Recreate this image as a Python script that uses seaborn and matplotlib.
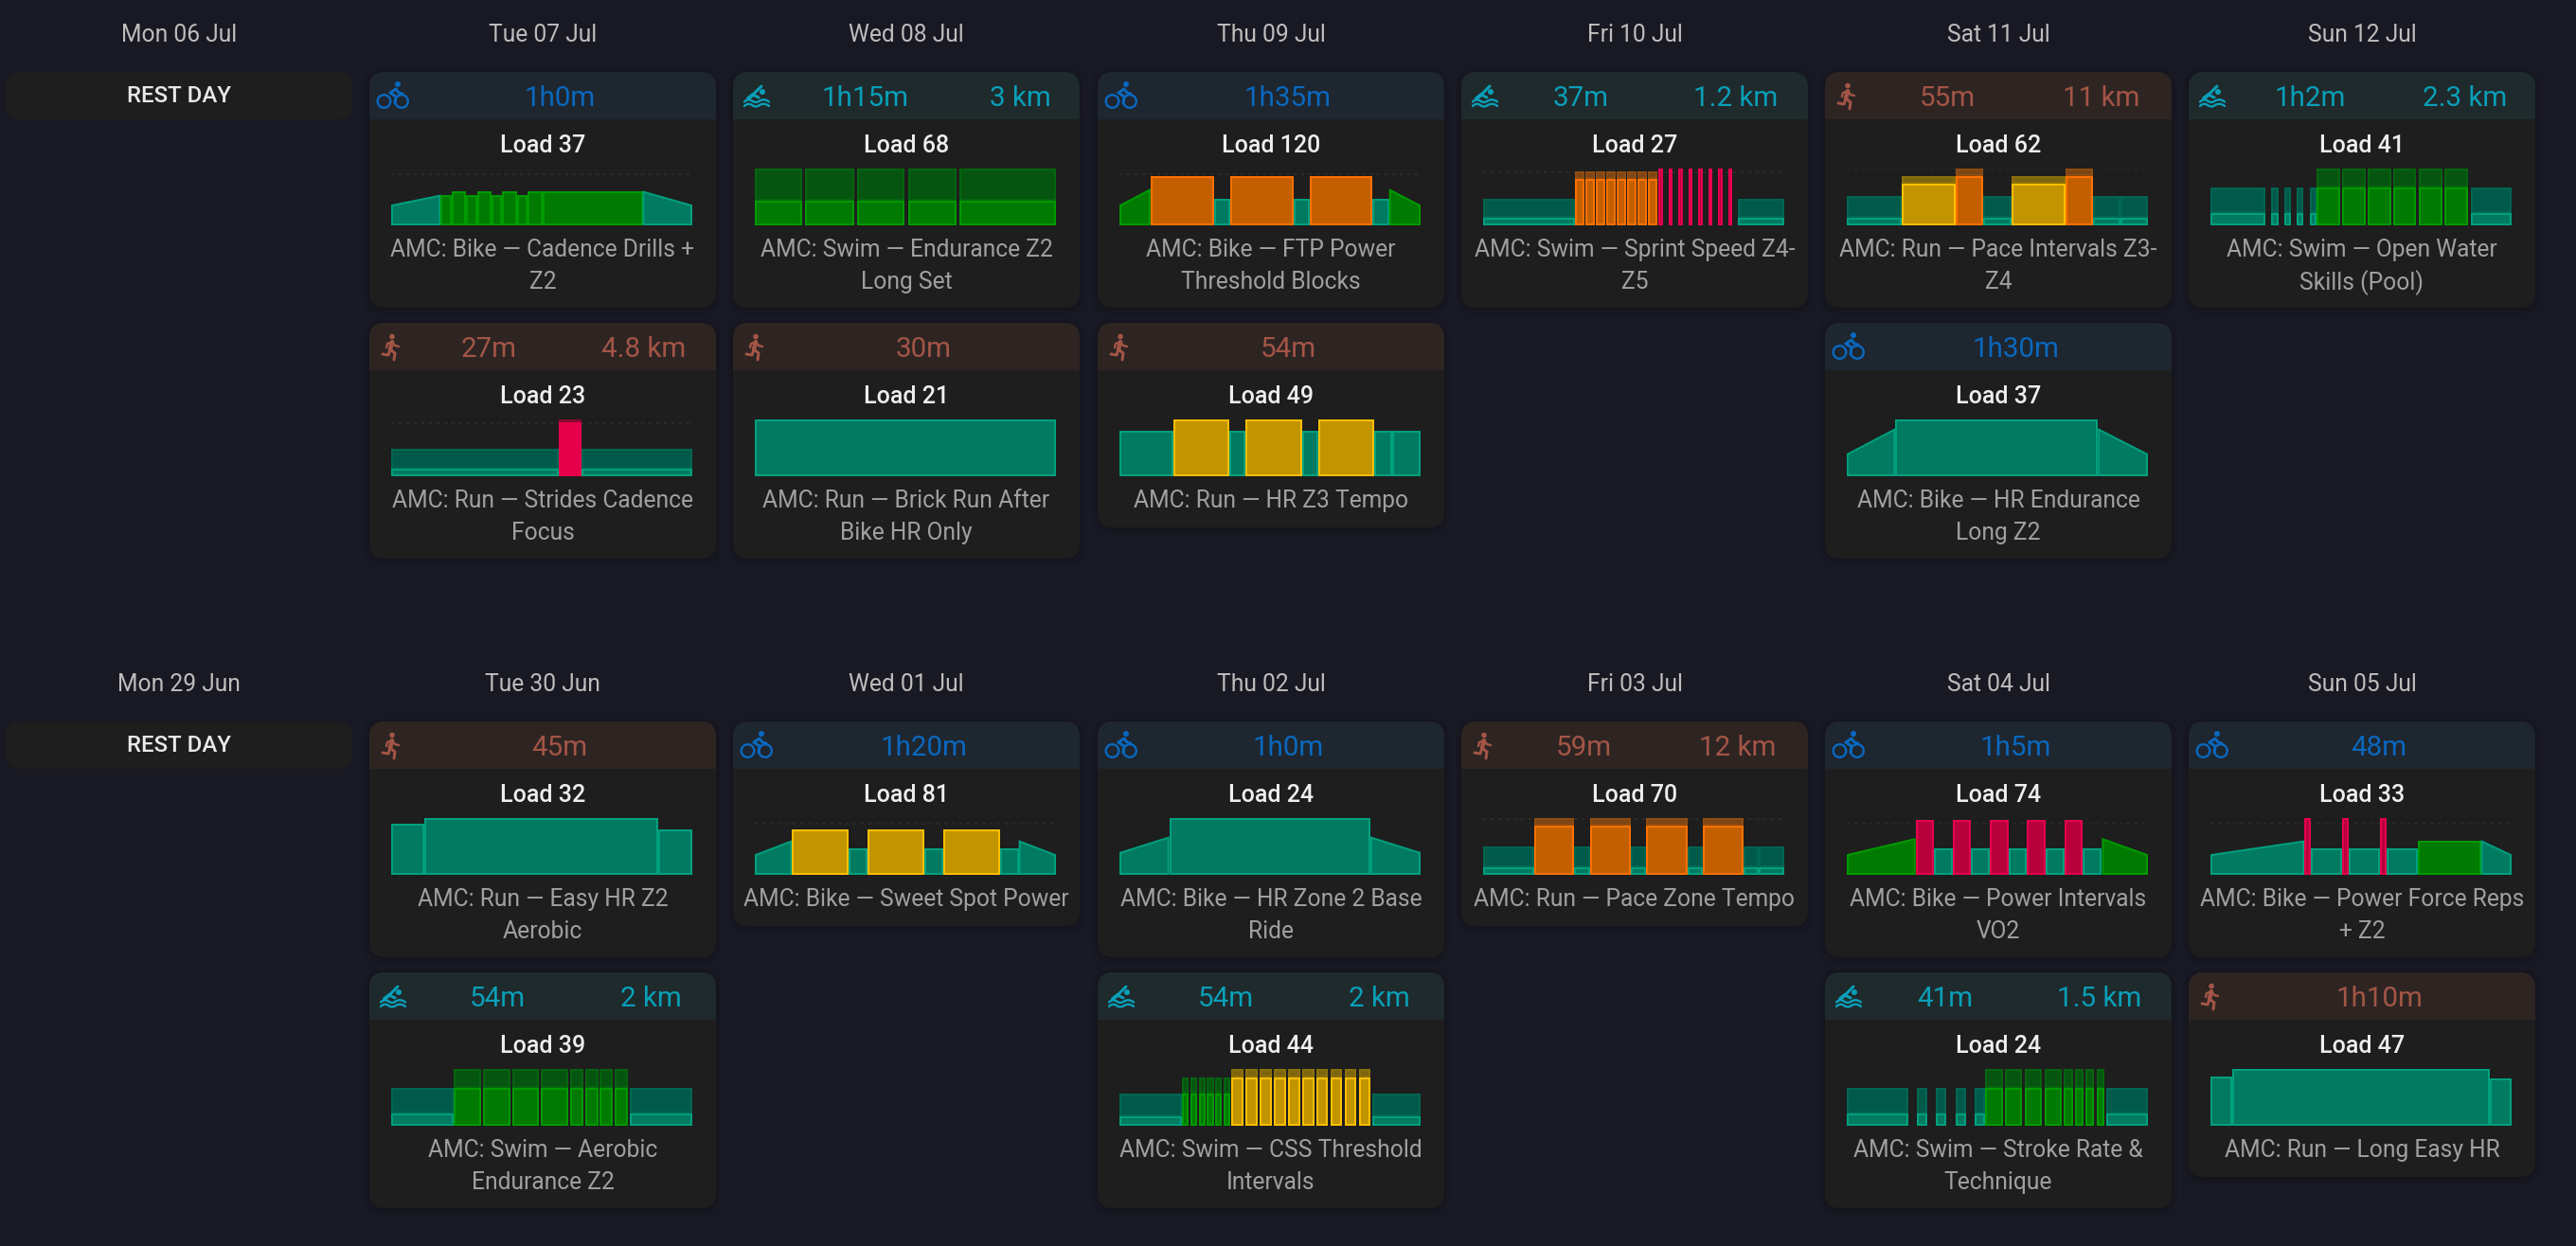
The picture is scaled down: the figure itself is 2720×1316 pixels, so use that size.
import matplotlib
matplotlib.use("Agg")
import matplotlib.pyplot as plt
from matplotlib.patches import Circle, FancyBboxPatch, PathPatch, Rectangle
from matplotlib.path import Path
import pandas as pd
import seaborn as sns

W, H = 2720, 1316
DPI = 200
PT = 72 / DPI  # one output pixel in points

# values below: (zone, duration, height at start, height at end, lower edge of target band)
# heights run 0-60, gap = no effort drawn
TUE07_BIKE = [("z1", 52.5, 22, 32.3, 0), ("z2", 11.7, 32.3, 32.3, 0), ("z2", 15.3, 36.3, 36.3, 0),
              ("z2", 11.2, 32.3, 32.3, 0), ("z2", 15.3, 36.3, 36.3, 0), ("z2", 11.2, 32.3, 32.3, 0),
              ("z2", 15.3, 36.3, 36.3, 0), ("z2", 11.2, 32.3, 32.3, 0), ("z2", 15.8, 36.3, 36.3, 0),
              ("z2", 106, 36.3, 36.3, 0), ("z1", 52.5, 36.3, 22, 0)]
TUE07_RUN = [("z1", 176.5, 28.7, 28.7, 8.3), ("z5", 3, 60, 60, 56.7), ("z5", 3, 60, 60, 56.7),
             ("z5", 3, 60, 60, 56.7), ("z5", 3, 60, 60, 56.7), ("z5", 3, 60, 60, 56.7),
             ("z5", 3, 60, 60, 56.7), ("z5", 3, 60, 60, 56.7), ("z5", 3, 60, 60, 56.7),
             ("z1", 117.3, 28.7, 28.7, 8.3)]
WED08_SWIM = [("z2", 50, 60, 60, 26), ("gap", 3, 0, 0, 0), ("z2", 51, 60, 60, 26), ("gap", 3, 0, 0, 0),
              ("z2", 50.5, 60, 60, 26), ("gap", 3, 0, 0, 0), ("z2", 51, 60, 60, 26), ("gap", 3, 0, 0, 0),
              ("z2", 101.5, 60, 60, 26)]
WED08_RUN = [("z1", 318, 60, 60, 0)]
THU09_BIKE = [("z2", 32.7, 22, 38.3, 0), ("z4", 67.3, 52.3, 52.3, 0), ("z1", 16.8, 28.3, 28.3, 0),
              ("z4", 66.3, 52.3, 52.3, 0), ("z1", 17.3, 28.3, 28.3, 0), ("z4", 66.3, 52.3, 52.3, 0),
              ("z1", 17.3, 28.3, 28.3, 0), ("z2", 33.2, 38.3, 22, 0)]
THU09_RUN = [("z1", 57, 48, 48, 0), ("z3", 58.5, 60, 60, 0), ("z1", 17.5, 48, 48, 0), ("z3", 59, 60, 60, 0),
             ("z1", 17.5, 48, 48, 0), ("z3", 59, 60, 60, 0), ("z1", 19, 48, 48, 0), ("z1", 29.5, 48, 48, 0)]
FRI10_SWIM = [("z1", 97, 28.3, 28.3, 8.3),
              ("z4", 9.7, 56.7, 56.7, 48.7), ("gap", 1.3, 0, 0, 0), ("z4", 9.7, 56.7, 56.7, 48.7), ("gap", 1.3, 0, 0, 0),
              ("z4", 9.7, 56.7, 56.7, 48.7), ("gap", 1.3, 0, 0, 0), ("z4", 9.7, 56.7, 56.7, 48.7), ("gap", 1.3, 0, 0, 0),
              ("z4", 9.7, 56.7, 56.7, 48.7), ("gap", 1.3, 0, 0, 0), ("z4", 9.7, 56.7, 56.7, 48.7), ("gap", 1.3, 0, 0, 0),
              ("z4", 9.7, 56.7, 56.7, 48.7), ("gap", 1.3, 0, 0, 0), ("z4", 9.7, 56.7, 56.7, 48.7), ("gap", 1.5, 0, 0, 0),
              ("z5", 4.6, 60, 60, 0), ("gap", 5.9, 0, 0, 0), ("z5", 4.6, 60, 60, 0), ("gap", 5.9, 0, 0, 0),
              ("z5", 4.6, 60, 60, 0), ("gap", 5.9, 0, 0, 0), ("z5", 4.6, 60, 60, 0), ("gap", 5.9, 0, 0, 0),
              ("z5", 4.6, 60, 60, 0), ("gap", 5.9, 0, 0, 0), ("z5", 4.6, 60, 60, 0), ("gap", 5.9, 0, 0, 0),
              ("z5", 4.6, 60, 60, 0), ("gap", 5.9, 0, 0, 0), ("z5", 4.6, 60, 60, 0), ("gap", 5.6, 0, 0, 0),
              ("z1", 49, 28.3, 28.3, 8.3)]
SAT11_RUN = [("z1", 57.7, 30.7, 30.7, 8.3), ("z3", 57.7, 52.3, 52.3, 44.3), ("z4", 29, 60, 60, 52.3),
             ("z1", 29, 30.7, 30.7, 8.3), ("z3", 57.7, 52.3, 52.3, 44.3), ("z4", 29, 60, 60, 52.3),
             ("z1", 28.6, 30.7, 30.7, 8.3), ("z1", 29.1, 30.7, 30.7, 8.3)]
SAT11_BIKE = [("z1", 51.3, 24.3, 50.3, 0), ("z1", 213.3, 60, 60, 0), ("z1", 52.7, 50.3, 24.3, 0)]
SUN12_SWIM = [("z1", 58, 40.3, 40.3, 12.7), ("gap", 5.8, 0, 0, 0), ("z1", 7.8, 40.3, 40.3, 12.7), ("gap", 5.8, 0, 0, 0),
              ("z1", 7.3, 40.3, 40.3, 12.7), ("gap", 6.3, 0, 0, 0), ("z1", 7.3, 40.3, 40.3, 12.7), ("gap", 6.3, 0, 0, 0),
              ("z1", 7.3, 40.3, 40.3, 12.7), ("z2", 24.6, 60, 60, 40.3), ("gap", 2.6, 0, 0, 0),
              ("z2", 24.6, 60, 60, 40.3), ("gap", 2.1, 0, 0, 0), ("z2", 24.6, 60, 60, 40.3), ("gap", 2.1, 0, 0, 0),
              ("z2", 24.6, 60, 60, 40.3), ("gap", 2.6, 0, 0, 0), ("z2", 24.6, 60, 60, 40.3), ("gap", 2.6, 0, 0, 0),
              ("z2", 24.6, 60, 60, 40.3), ("gap", 2.6, 0, 0, 0), ("z1", 43.4, 40.3, 40.3, 12.7)]
TUE30_RUN = [("z1", 35.2, 54.3, 54.3, 0), ("z1", 247, 60, 60, 0), ("z1", 35.7, 48.3, 48.3, 0)]
TUE30_SWIM = [("z1", 66.3, 40.3, 40.3, 12.7), ("z2", 28.6, 60, 60, 40.3), ("gap", 2, 0, 0, 0),
              ("z2", 28.6, 60, 60, 40.3), ("gap", 2.5, 0, 0, 0), ("z2", 28.3, 60, 60, 40.3), ("gap", 2, 0, 0, 0),
              ("z2", 28.6, 60, 60, 40.3), ("gap", 2, 0, 0, 0), ("z2", 14.3, 60, 60, 40.3), ("gap", 1.5, 0, 0, 0),
              ("z2", 13.8, 60, 60, 40.3), ("gap", 1.5, 0, 0, 0), ("z2", 13.8, 60, 60, 40.3), ("gap", 2, 0, 0, 0),
              ("z2", 14.3, 60, 60, 40.3), ("gap", 1.5, 0, 0, 0), ("z1", 66.3, 40.3, 40.3, 12.7)]
WED01_BIKE = [("z1", 39.3, 22, 36.3, 0), ("z3", 59.7, 48.3, 48.3, 0), ("z1", 19.9, 28.3, 28.3, 0),
              ("z3", 59.7, 48.3, 48.3, 0), ("z1", 19.9, 28.3, 28.3, 0), ("z3", 59.7, 48.3, 48.3, 0),
              ("z1", 19.9, 28.3, 28.3, 0), ("z1", 39.3, 36.3, 22, 0)]
THU02_BIKE = [("z1", 52.6, 24.3, 40.3, 0), ("z1", 211.7, 60, 60, 0), ("z1", 53, 40.3, 24.3, 0)]
THU02_SWIM = [("z1", 66, 34.3, 34.3, 10.3),
              ("z2", 7.1, 50.7, 50.7, 34.3), ("gap", 1.6, 0, 0, 0), ("z2", 7.1, 50.7, 50.7, 34.3), ("gap", 1.6, 0, 0, 0),
              ("z2", 7.1, 50.7, 50.7, 34.3), ("gap", 1.6, 0, 0, 0), ("z2", 7.1, 50.7, 50.7, 34.3), ("gap", 1.6, 0, 0, 0),
              ("z2", 7.1, 50.7, 50.7, 34.3), ("gap", 1.6, 0, 0, 0), ("z2", 7.1, 50.7, 50.7, 34.3), ("gap", 1.5, 0, 0, 0),
              ("z3", 12.3, 60, 60, 50.7), ("gap", 2.6, 0, 0, 0), ("z3", 12.3, 60, 60, 50.7), ("gap", 2.6, 0, 0, 0),
              ("z3", 12.3, 60, 60, 50.7), ("gap", 2.6, 0, 0, 0), ("z3", 12.3, 60, 60, 50.7), ("gap", 2.6, 0, 0, 0),
              ("z3", 12.3, 60, 60, 50.7), ("gap", 2.6, 0, 0, 0), ("z3", 12.3, 60, 60, 50.7), ("gap", 2.6, 0, 0, 0),
              ("z3", 12.3, 60, 60, 50.7), ("gap", 2.6, 0, 0, 0), ("z3", 12.3, 60, 60, 50.7), ("gap", 2.6, 0, 0, 0),
              ("z3", 12.3, 60, 60, 50.7), ("gap", 2.6, 0, 0, 0), ("z3", 12.3, 60, 60, 50.7), ("gap", 2, 0, 0, 0),
              ("z1", 50.5, 34.3, 34.3, 10.3)]
FRI03_RUN = [("z1", 53.6, 30.3, 30.3, 8.3), ("z4", 42.9, 60, 60, 52.3), ("z1", 16.8, 30.3, 30.3, 8.3),
             ("z4", 42.3, 60, 60, 52.3), ("z1", 16.8, 30.3, 30.3, 8.3), ("z4", 43.2, 60, 60, 52.3),
             ("z1", 16.3, 30.3, 30.3, 8.3), ("z4", 42.9, 60, 60, 52.3), ("z1", 16.3, 30.3, 30.3, 8.3),
             ("z1", 27, 30.3, 30.3, 8.3)]
SAT04_BIKE = [("z2", 72.7, 22, 38.7, 0), ("z5", 19.4, 58.3, 58.3, 0), ("z1", 19.4, 28.3, 28.3, 0),
              ("z5", 19.9, 58.3, 58.3, 0), ("z1", 19.4, 28.3, 28.3, 0), ("z5", 19.9, 58.3, 58.3, 0),
              ("z1", 19.4, 28.3, 28.3, 0), ("z5", 19.9, 58.3, 58.3, 0), ("z1", 19.4, 28.3, 28.3, 0),
              ("z5", 19.9, 58.3, 58.3, 0), ("z1", 19.9, 28.3, 28.3, 0), ("z2", 48.6, 38.7, 22, 0)]
SAT04_SWIM = [("z1", 64.9, 40.3, 40.3, 12.7), ("gap", 8.9, 0, 0, 0), ("z1", 11.5, 40.3, 40.3, 12.7), ("gap", 8.9, 0, 0, 0),
              ("z1", 11, 40.3, 40.3, 12.7), ("gap", 9.4, 0, 0, 0), ("z1", 11, 40.3, 40.3, 12.7), ("gap", 8.9, 0, 0, 0),
              ("z1", 11, 40.3, 40.3, 12.7), ("z2", 18.8, 60, 60, 40.3), ("gap", 2.1, 0, 0, 0),
              ("z2", 18.3, 60, 60, 40.3), ("gap", 2.6, 0, 0, 0), ("z2", 18.3, 60, 60, 40.3), ("gap", 2.6, 0, 0, 0),
              ("z2", 18.3, 60, 60, 40.3), ("gap", 2.6, 0, 0, 0), ("z2", 9.4, 60, 60, 40.3), ("gap", 2.1, 0, 0, 0),
              ("z2", 8.9, 60, 60, 40.3), ("gap", 2.1, 0, 0, 0), ("z2", 9.4, 60, 60, 40.3), ("gap", 2.1, 0, 0, 0),
              ("z2", 8.9, 60, 60, 40.3), ("gap", 1.6, 0, 0, 0), ("z1", 43.9, 40.3, 40.3, 12.7)]
SUN05_BIKE = [("z1", 99.4, 22, 36.3, 0), ("z5", 6.8, 60, 60, 0), ("z1", 33, 28.3, 28.3, 0), ("z5", 6.8, 60, 60, 0),
              ("z1", 33.2, 28.3, 28.3, 0), ("z5", 6.8, 60, 60, 0), ("z1", 33.5, 28.3, 28.3, 0),
              ("z2", 66.4, 36.3, 36.3, 0), ("z1", 32.4, 36.3, 22, 0)]
SUN05_RUN = [("z1", 23, 52.3, 52.3, 0), ("z1", 272, 60, 60, 0), ("z1", 23, 50.3, 50.3, 0)]

DAYS_TOP = ["Mon 06 Jul", "Tue 07 Jul", "Wed 08 Jul", "Thu 09 Jul", "Fri 10 Jul", "Sat 11 Jul", "Sun 12 Jul"]
DAYS_BOTTOM = ["Mon 29 Jun", "Tue 30 Jun", "Wed 01 Jul", "Thu 02 Jul", "Fri 03 Jul", "Sat 04 Jul", "Sun 05 Jul"]

# one entry per workout, same order in every list
WEEKS = [0, 0, 0, 0, 0, 0, 0, 0, 0, 0, 1, 1, 1, 1, 1, 1, 1, 1, 1, 1]
WEEKDAYS = [1, 1, 2, 2, 3, 3, 4, 5, 5, 6, 1, 1, 2, 3, 3, 4, 5, 5, 6, 6]
SPORTS = ["bike", "run", "swim", "run", "bike", "run", "swim", "run", "bike", "swim",
          "run", "swim", "bike", "bike", "swim", "run", "bike", "swim", "bike", "run"]
DURATIONS = ["1h0m", "27m", "1h15m", "30m", "1h35m", "54m", "37m", "55m", "1h30m", "1h2m",
             "45m", "54m", "1h20m", "1h0m", "54m", "59m", "1h5m", "41m", "48m", "1h10m"]
DISTANCES = ["", "4.8 km", "3 km", "", "", "", "1.2 km", "11 km", "", "2.3 km",
             "", "2 km", "", "", "2 km", "12 km", "", "1.5 km", "", ""]
LOADS = [37, 23, 68, 21, 120, 49, 27, 62, 37, 41, 32, 39, 81, 24, 44, 70, 74, 24, 33, 47]
TITLES = [
    ["AMC: Bike — Cadence Drills +", "Z2"],
    ["AMC: Run — Strides Cadence", "Focus"],
    ["AMC: Swim — Endurance Z2", "Long Set"],
    ["AMC: Run — Brick Run After", "Bike HR Only"],
    ["AMC: Bike — FTP Power", "Threshold Blocks"],
    ["AMC: Run — HR Z3 Tempo"],
    ["AMC: Swim — Sprint Speed Z4-", "Z5"],
    ["AMC: Run — Pace Intervals Z3-", "Z4"],
    ["AMC: Bike — HR Endurance", "Long Z2"],
    ["AMC: Swim — Open Water", "Skills (Pool)"],
    ["AMC: Run — Easy HR Z2", "Aerobic"],
    ["AMC: Swim — Aerobic", "Endurance Z2"],
    ["AMC: Bike — Sweet Spot Power"],
    ["AMC: Bike — HR Zone 2 Base", "Ride"],
    ["AMC: Swim — CSS Threshold", "Intervals"],
    ["AMC: Run — Pace Zone Tempo"],
    ["AMC: Bike — Power Intervals", "VO2"],
    ["AMC: Swim — Stroke Rate &", "Technique"],
    ["AMC: Bike — Power Force Reps", "+ Z2"],
    ["AMC: Run — Long Easy HR"],
]
PROFILES = [TUE07_BIKE, TUE07_RUN, WED08_SWIM, WED08_RUN, THU09_BIKE, THU09_RUN, FRI10_SWIM, SAT11_RUN,
            SAT11_BIKE, SUN12_SWIM, TUE30_RUN, TUE30_SWIM, WED01_BIKE, THU02_BIKE, THU02_SWIM, FRI03_RUN,
            SAT04_BIKE, SAT04_SWIM, SUN05_BIKE, SUN05_RUN]
# threshold level of each workout, None when the chart shows none
THRESHOLDS = [54, 55.7, None, None, 53.7, None, 55.7, 59.7, None, None,
              None, None, 54, None, None, 59.3, 54, None, 54, None]

BG = "#191923"
CARD = "#1e1e1e"
ZONE_COLORS = {
    "z1": {"fill": "#007a60", "edge": "#00a07e", "band": "#005a4a", "band_edge": "#006652"},
    "z2": {"fill": "#007a00", "edge": "#009a00", "band": "#055510", "band_edge": "#05650f"},
    "z3": {"fill": "#c29400", "edge": "#ffbf00", "band": "#7d6510", "band_edge": "#8c7008"},
    "z4": {"fill": "#c45f00", "edge": "#ff7000", "band": "#7d4515", "band_edge": "#8f4c10"},
    "z5": {"fill": "#b8003c", "edge": "#e6004c", "band": "#8a0a30", "band_edge": "#8a0a30"},
}
SPORT_COLORS = {
    "bike": {"text": "#0a68be", "head": "#1e2630"},
    "swim": {"text": "#0a9fb8", "head": "#1f2a2c"},
    "run": {"text": "#a35546", "head": "#2e2523"},
}

COL_X = [6, 390, 774, 1159, 1543, 1927, 2311]
CARD_W = 366
ROW_Y = [76, 762]
SLOT_PITCH = 265


def add_text(ax, x, y, s, size, color, weight=400, ha="center"):
    # size in output pixels
    return ax.text(x, y, s, fontsize=size * PT, color=color, fontweight=weight, ha=ha, va="center_baseline")


def rounded_box(ax, x, y, w, h, r, **kw):
    box = FancyBboxPatch((x + r, y + r), w - 2 * r, h - 2 * r,
                         boxstyle=f"round,pad={r},rounding_size={r}", linewidth=0, **kw)
    ax.add_patch(box)
    return box


def stroke(ax, points, color, width):
    ax.plot([p[0] for p in points], [p[1] for p in points], color=color, lw=width * PT,
            solid_capstyle="round", solid_joinstyle="round")


def draw_icon(ax, sport, x, y, color):
    if sport == "bike":
        for cx in (x + 15.5, x + 34):
            ax.add_patch(Circle((cx, y + 31), 6.8, fill=False, edgecolor=color, lw=2.4 * PT))
        ax.add_patch(Circle((x + 30, y + 13), 3, color=color, lw=0))
        stroke(ax, [(x + 22, y + 22), (x + 28, y + 18), (x + 31, y + 22), (x + 35, y + 23)], color, 3)
        stroke(ax, [(x + 22, y + 22), (x + 28, y + 26), (x + 27, y + 33)], color, 3)
    elif sport == "swim":
        ax.add_patch(Circle((x + 31, y + 21), 3, color=color, lw=0))
        stroke(ax, [(x + 30, y + 15), (x + 21, y + 24), (x + 27, y + 27)], color, 3)
        stroke(ax, [(x + 21, y + 24), (x + 16, y + 28)], color, 4)
        for wave_y in (y + 30.5, y + 35):
            verts = [(x + 12, wave_y + 1), (x + 16, wave_y - 3), (x + 20, wave_y), (x + 24, wave_y + 3),
                     (x + 28, wave_y), (x + 33, wave_y - 3), (x + 38, wave_y + 1)]
            codes = [Path.MOVETO, Path.CURVE3, Path.CURVE3, Path.CURVE3, Path.CURVE3, Path.CURVE3, Path.CURVE3]
            ax.add_patch(PathPatch(Path(verts, codes), fill=False, edgecolor=color, lw=2.4 * PT, capstyle="round"))
    else:
        ax.add_patch(Circle((x + 24, y + 14.5), 2.8, color=color, lw=0))
        stroke(ax, [(x + 24, y + 20), (x + 22, y + 28)], color, 4.5)
        stroke(ax, [(x + 24, y + 20), (x + 27, y + 24), (x + 31, y + 25)], color, 2.4)
        stroke(ax, [(x + 24, y + 20), (x + 19, y + 22), (x + 18, y + 26)], color, 2.4)
        stroke(ax, [(x + 22, y + 28), (x + 27, y + 32), (x + 26, y + 39)], color, 3)
        stroke(ax, [(x + 22, y + 28), (x + 20, y + 34), (x + 14, y + 33)], color, 3)


def draw_profile(fig, profile, threshold, x, y):
    """workout profile, one small axes per card"""
    ax = fig.add_axes([(x + 23) / W, 1 - (y + 162) / H, 318 / W, 60 / H])
    ax.set_axis_off()
    ax.patch.set_alpha(0)
    total = sum(seg[1] for seg in profile)
    ax.set_xlim(0, total)
    ax.set_ylim(0, 60)
    px = total / 318  # bars are stroked on the inside, as in the app

    if threshold is not None:
        level = pd.DataFrame({"t": [0, total], "level": [threshold, threshold]})
        sns.lineplot(data=level, x="t", y="level", ax=ax, color="#2e2e2e", linewidth=1.6 * PT,
                     linestyle=(0, (2, 3)), zorder=1)
        ax.set_axis_off()

    start = 0
    for zone, dur, h0, h1, low in profile:
        if zone != "gap":
            col = ZONE_COLORS[zone]
            left = start + min(px, dur / 3)
            right = start + dur - min(px, dur / 3)
            if low > 0:
                ax.fill([left, left, right, right], [low + 1, h0 - 1, h1 - 1, low + 1], facecolor=col["band"],
                        edgecolor=col["band_edge"], linewidth=2 * PT, clip_on=False, zorder=2)
                h0, h1 = low, low
            ax.fill([left, left, right, right], [1, h0 - 1, h1 - 1, 1], facecolor=col["fill"],
                    edgecolor=col["edge"], linewidth=2 * PT, clip_on=False, zorder=3)
        start += dur


def draw_card(fig, ax, renderer, idx, x, y):
    sport = SPORT_COLORS[SPORTS[idx]]
    height = 183 + 33 * len(TITLES[idx])

    # soft shadow
    rounded_box(ax, x - 5, y - 3, CARD_W + 10, height + 10, 20, facecolor="black", alpha=0.05)
    rounded_box(ax, x - 2, y - 1, CARD_W + 4, height + 4, 18, facecolor="black", alpha=0.08)

    box = rounded_box(ax, x, y, CARD_W, height, 16, facecolor=CARD)
    head = Rectangle((x, y), CARD_W, 50, facecolor=sport["head"], linewidth=0)
    ax.add_patch(head)
    head.set_clip_path(box)

    draw_icon(ax, SPORTS[idx], x, y, sport["text"])

    if DISTANCES[idx]:
        dur = add_text(ax, x + 99, y + 25, DURATIONS[idx], 29.5, sport["text"], ha="left")
        dist = add_text(ax, x + 333, y + 25, DISTANCES[idx], 29.5, sport["text"], ha="right")
        total = dur.get_window_extent(renderer).width + dist.get_window_extent(renderer).width
        # looser when the two strings are short
        dur.set_x(x + 99 + 0.36 * (142 - total))
        dist.set_x(x + 333 - 0.16 * (142 - total))
    else:
        add_text(ax, x + 201, y + 25, DURATIONS[idx], 29.5, sport["text"])

    add_text(ax, x + CARD_W / 2, y + 75.5, f"Load {LOADS[idx]}", 25, "#eeeeee", weight=500)
    draw_profile(fig, PROFILES[idx], THRESHOLDS[idx], x, y)
    for n, line in enumerate(TITLES[idx]):
        add_text(ax, x + CARD_W / 2, y + 185.5 + 34 * n, line, 24.6, "#a0a0a0")


def main():
    sns.set_theme(style="dark", rc={"figure.facecolor": BG, "axes.facecolor": BG, "savefig.facecolor": BG})
    plt.rcParams["font.family"] = ["Roboto", "DejaVu Sans"]

    fig = plt.figure(figsize=(W / DPI, H / DPI), dpi=DPI)
    ax = fig.add_axes([0, 0, 1, 1])
    ax.set_xlim(0, W)
    ax.set_ylim(H, 0)
    ax.set_axis_off()
    renderer = fig.canvas.get_renderer()

    # faint column separators
    for x in COL_X[1:]:
        ax.axvline(x - 8, color="#1b1b26", lw=2 * PT)

    for week, days in enumerate([DAYS_TOP, DAYS_BOTTOM]):
        top = ROW_Y[week]
        for col, day in enumerate(days):
            add_text(ax, COL_X[col] + CARD_W / 2, top - 41, day, 24.6, "#bdbdbd")
        rounded_box(ax, COL_X[0], top, CARD_W, 50, 16, facecolor=CARD)
        add_text(ax, COL_X[0] + CARD_W / 2, top + 23.5, "REST DAY", 24, "#e8e8e8", weight=500)

    seen = {}
    for idx in range(len(LOADS)):
        key = (WEEKS[idx], WEEKDAYS[idx])
        slot = seen.get(key, 0)
        seen[key] = slot + 1
        draw_card(fig, ax, renderer, idx, COL_X[WEEKDAYS[idx]], ROW_Y[WEEKS[idx]] + slot * SLOT_PITCH)

    fig.savefig("out.png", dpi=DPI)


main()
